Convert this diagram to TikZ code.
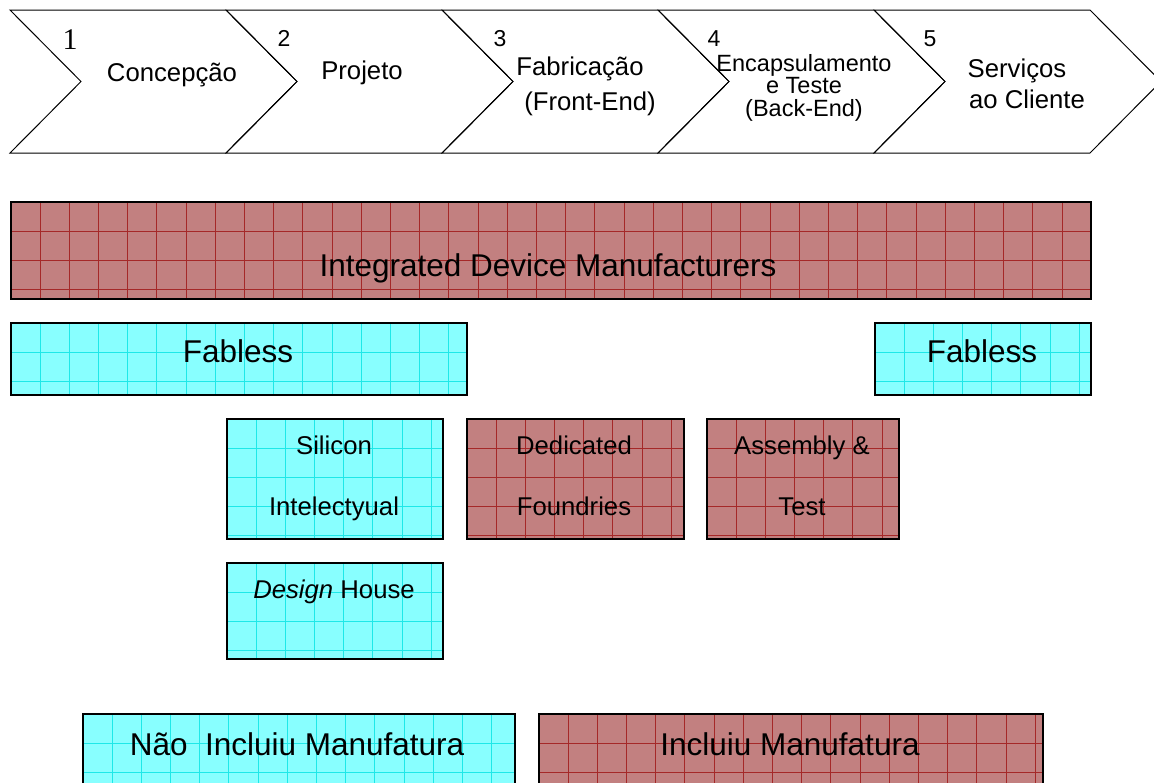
\documentclass[tikz,border=0pt]{standalone}
\usepackage{fontspec}
\setmainfont{Liberation Sans}
\newfontfamily\numserif{Liberation Serif}
\usetikzlibrary{calc}

\definecolor{idmred}{RGB}{194,128,128}
\definecolor{idmgrid}{RGB}{165,40,40}
\definecolor{fabcyan}{RGB}{136,255,255}
\definecolor{fabgrid}{RGB}{30,232,232}

\tikzset{
  stage/.style={draw=black, line width=1pt},
  gridbox/.style={draw=black, line width=1.6pt, anchor=north west, inner sep=0pt,
    path picture={
      \foreach \k in {1,...,38}{
        \draw[#1, line width=0.7pt] ([xshift=\k*29.2pt]path picture bounding box.north west) -- ++(0pt,-200pt);
        \draw[#1, line width=0.7pt] ([yshift=-\k*29.2pt]path picture bounding box.north west) -- ++(1200pt,0pt);
      }}},
  redbox/.style={gridbox=idmgrid, fill=idmred},
  cyanbox/.style={gridbox=fabgrid, fill=fabcyan},
  stagelbl/.style={font=\fontsize{25.7}{28}\selectfont, inner sep=0pt, text height=18pt, text depth=0pt},
  smalllbl/.style={font=\fontsize{23.5}{26}\selectfont, inner sep=0pt, text height=17pt, text depth=0pt},
  stagenum/.style={font=\fontsize{23}{25}\selectfont, inner sep=0pt, text height=16.5pt, text depth=0pt},
  boxlbl/.style={font=\fontsize{25.7}{28}\selectfont, inner sep=0pt, text height=18pt, text depth=0pt},
  biglbl/.style={font=\fontsize{31.5}{34}\selectfont, inner sep=0pt, text height=22.5pt, text depth=0pt}
}

\begin{document}
\begin{tikzpicture}[x=1pt, y=-1pt]

\useasboundingbox (0,0) rectangle (1154,782);

% Value chain
\foreach \i in {0,...,4}
  \draw[stage] ({10+216*\i},10) -- ++(216,0) -- ++(71,71.5) -- ++(-71,71.5) -- ++(-216,0) -- ++(71,-71.5) -- cycle;

\node[font=\numserif\fontsize{30}{32}\selectfont, inner sep=0pt, text height=20pt, text depth=0pt] (n1) at (70,39) {1};
\node[stagelbl] (concepcao) at (172,72) {Concepção};
\node[stagenum] (n2) at (284,38) {2};
\node[stagelbl] (projeto) at (362,70) {Projeto};
\node[stagenum] (n3) at (500,38) {3};
\node[stagelbl] (fabricacao) at (580,66) {Fabricação};
\node[stagelbl] (frontend) at (590,101) {(Front-End)};
\node[stagenum] (n4) at (714,38) {4};
\node[smalllbl] (encaps) at (804,63) {Encapsulamento};
\node[smalllbl] (teste) at (804,85) {e Teste};
\node[smalllbl] (backend) at (804,108) {(Back-End)};
\node[stagenum] (n5) at (930,38) {5};
\node[stagelbl] (servicos) at (1017,68) {Serviços};
\node[stagelbl] (cliente) at (1027,99) {ao Cliente};

% Companies
\node[redbox, minimum width=1080pt, minimum height=97pt] (idm) at (10,201) {};
\node[biglbl] (idm-t) at (548,265) {Integrated Device Manufacturers};

\node[cyanbox, minimum width=456pt, minimum height=72pt] (fab1) at (10,322) {};
\node[biglbl] (fab1-t) at (238,351) {Fabless};
\node[cyanbox, minimum width=216pt, minimum height=72pt] (fab2) at (874,322) {};
\node[biglbl] (fab2-t) at (982,351) {Fabless};

\node[cyanbox, minimum width=216pt, minimum height=120pt] (sip) at (226,418) {};
\node[boxlbl] (sip-a) at (334,445) {Silicon};
\node[boxlbl] (sip-b) at (334,506) {Intelectyual};
\node[redbox, minimum width=217pt, minimum height=120pt] (fdry) at (466,418) {};
\node[boxlbl] (fdry-a) at (574,445) {Dedicated};
\node[boxlbl] (fdry-b) at (574,506) {Foundries};
\node[redbox, minimum width=192pt, minimum height=120pt] (at) at (706,418) {};
\node[boxlbl] (at-a) at (802,445) {Assembly \&};
\node[boxlbl] (at-b) at (802,506) {Test};

\node[cyanbox, minimum width=216pt, minimum height=96pt] (dh) at (226,562) {};
\node[boxlbl] (dh-t) at (334,589) {\textit{Design} House};

% Legend
\node[cyanbox, minimum width=432pt, minimum height=90pt] (nao) at (82,713) {};
\node[biglbl] (nao-t) at (297,744) {Não\ \ Incluiu Manufatura};
\node[redbox, minimum width=504pt, minimum height=90pt] (inc) at (538,713) {};
\node[biglbl] (inc-t) at (790,744) {Incluiu Manufatura};

\end{tikzpicture}
\end{document}
